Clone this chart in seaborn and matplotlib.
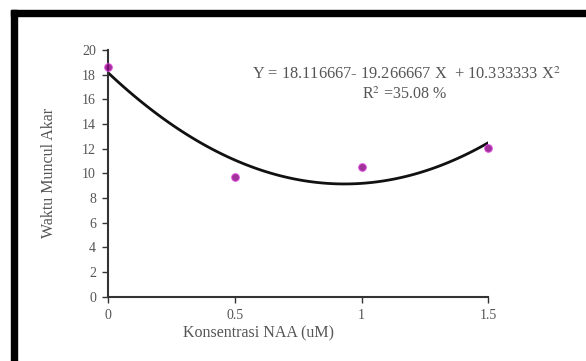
import numpy as np
import pandas as pd
import matplotlib.pyplot as plt
import seaborn as sns
from matplotlib.patches import Rectangle

# data
konsentrasi = [0, 0.5, 1, 1.5]
waktu = [18.57, 9.72, 10.53, 12.02]
x_ticks = [0, 0.5, 1, 1.5]
x_tick_labels = ['0', '0.5', '1', '1.5']
y_ticks = list(range(0, 21, 2))

eq_text = "Y = 18.116667- 19.266667 X  + 10.333333 X$^2$"
r2_text = "R$^2$ =35.08 %"

sns.set_style('white')
plt.rcParams['font.family'] = ['Liberation Serif', 'DejaVu Serif']
plt.rcParams['mathtext.fontset'] = 'stix'

df = pd.DataFrame({'x': konsentrasi, 'y': waktu})

fig = plt.figure(figsize=(5.86, 3.61), dpi=100)
ax = fig.add_axes([0.185, 0.178, 0.648, 0.684])

sns.regplot(data=df, x='x', y='y', order=2, ci=None, ax=ax,
	scatter_kws={'color': '#880080', 's': 30, 'edgecolor': '#e040e0', 'linewidths': 0.8,
		'zorder': 3, 'clip_on': False},
	line_kws={'color': '#111111', 'lw': 2.0})

ax.set_xlim(0, 1.5)
ax.set_ylim(0, 20)
ax.set_xticks(x_ticks)
ax.set_xticklabels(x_tick_labels)
ax.set_yticks(y_ticks)
ax.tick_params(axis='both', direction='out', length=4, width=1, color='#333333',
	labelsize=10, labelcolor='#555555', pad=5)
ax.tick_params(axis='x', bottom=True, pad=5)
ax.tick_params(axis='y', left=True)
for s in ['top', 'right']:
	ax.spines[s].set_visible(False)
for s in ['left', 'bottom']:
	ax.spines[s].set_color('#333333')
	ax.spines[s].set_linewidth(1.5)

ax.set_xlabel('Konsentrasi NAA (uM)', fontsize=11.5, color='#555555')
ax.set_ylabel('Waktu Muncul Akar', fontsize=11.5, color='#555555')
ax.xaxis.set_label_coords(0.394, -0.115)
ax.yaxis.set_label_coords(-0.135, 0.5)

ax.text(0.784, 0.9, eq_text, transform=ax.transAxes, ha='center', va='center',
	fontsize=11.8, color='#555555')
ax.text(0.78, 0.82, r2_text, transform=ax.transAxes, ha='center', va='center',
	fontsize=11.5, color='#555555')

# black frame (left and top edges of the original scan)
fig.patches.append(Rectangle((0.0188, 0), 0.0105, 0.972, transform=fig.transFigure,
	color='black', zorder=10))
fig.patches.append(Rectangle((0.0188, 0.9557), 0.99, 0.0166, transform=fig.transFigure,
	color='black', zorder=10))

plt.savefig('out.png', dpi=100)
